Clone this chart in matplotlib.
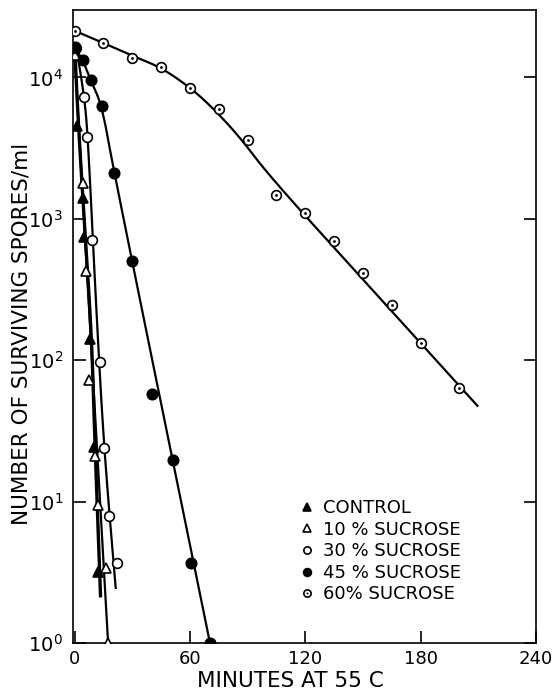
import numpy as np
import matplotlib
matplotlib.use("Agg")
import matplotlib.pyplot as plt
from matplotlib.legend_handler import HandlerTuple
from matplotlib.ticker import FixedLocator, FuncFormatter

plt.rcParams["font.family"] = ["DejaVu Sans"]

# Surviving spores/ml against minutes of heating at 55 C
control_t = [0, 1.0, 4.1, 5.0, 8.2, 10.1, 12.2]
control_n = [15000, 4530, 1400, 750, 142, 24.3, 3.2]

sucrose10_t = [0, 4.4, 6.1, 7.5, 10.5, 12.1, 16.1, 17.4]
sucrose10_n = [14400, 1780, 430, 72, 21, 9.5, 3.4, 1.0]

sucrose30_t = [0.6, 5.1, 6.5, 8.8, 13.1, 15.3, 17.9, 21.8]
sucrose30_n = [16200, 7300, 3810, 708, 97, 24, 7.9, 3.7]

sucrose45_t = [0, 4.2, 8.3, 14.3, 20.5, 30, 40.3, 51.2, 60.3, 70.3]
sucrose45_n = [16400, 13300, 9600, 6280, 2110, 503, 58, 19.7, 3.7, 1.0]

sucrose60_t = [0, 15, 30, 45, 60, 75, 90, 105, 120, 135, 150, 165, 180, 200]
sucrose60_n = [21400, 17600, 13800, 11800, 8460, 5980, 3610, 1470, 1100,
               697, 412, 246, 132, 64]

# Hand-fitted survivor curves (knots, smoothed in log space)
control_fit_t = [0, 1.8, 5.3, 8.8, 10.5, 13.5]
control_fit_n = [16900, 5000, 834, 151, 27, 2.1]

sucrose10_fit_t = [0, 17.4]
sucrose10_fit_n = [14400, 1.0]

sucrose30_fit_t = [0.9, 5.0, 6.9, 11.0, 15.2, 21.4]
sucrose30_fit_n = [16100, 7380, 3780, 267, 24.3, 2.41]

sucrose45_fit_t = [0, 4.2, 8.3, 14.3, 20.5, 70.4]
sucrose45_fit_n = [16400, 13300, 9600, 6280, 2110, 1.0]

sucrose60_fit_t = [0, 14.3, 29.1, 44.8, 60.3, 71.9, 85.9, 101.5, 150, 209.9]
sucrose60_fit_n = [21400, 17700, 14400, 11800, 8450, 6080, 3790, 1990, 372, 47]

legend_labels = ["CONTROL", "10 % SUCROSE", "30 % SUCROSE",
                 "45 % SUCROSE", "60% SUCROSE"]
x_ticks = [0, 60, 120, 180, 240]
y_decades = [1, 10, 100, 1000, 10000]


def smooth_curve(t, n, iters=4):
    """Chaikin corner cutting on (minutes, log10 count) knots."""
    p = np.column_stack([np.asarray(t, float), np.log10(n)])
    for _ in range(iters):
        if len(p) < 3:
            break
        q = 0.75 * p[:-1] + 0.25 * p[1:]
        r = 0.25 * p[:-1] + 0.75 * p[1:]
        mid = np.empty((2 * len(q), 2))
        mid[0::2] = q
        mid[1::2] = r
        p = np.vstack([p[:1], mid[1:-1], p[-1:]])
    return p[:, 0], 10 ** p[:, 1]


fig = plt.figure(figsize=(5.53, 6.90), dpi=100)
ax = fig.add_axes([0.1315, 0.0681, 0.8378, 0.9174])
ax.set_yscale("log")
ax.set_xlim(-1.0, 240)
ax.set_ylim(1, 30000)

lw = 1.6
ms = 7
ew = 1.2

for ft, fn, w in [(sucrose60_fit_t, sucrose60_fit_n, lw),
                  (sucrose45_fit_t, sucrose45_fit_n, lw),
                  (sucrose30_fit_t, sucrose30_fit_n, lw),
                  (sucrose10_fit_t, sucrose10_fit_n, lw),
                  (control_fit_t, control_fit_n, 2.4)]:
    cx, cy = smooth_curve(ft, fn)
    ax.plot(cx, cy, color="black", lw=w, zorder=2, solid_capstyle="butt")

h_ctrl, = ax.plot(control_t, control_n, ls="none", marker="^", ms=ms,
                  mfc="black", mec="black", mew=ew, zorder=4)
h_10, = ax.plot(sucrose10_t, sucrose10_n, ls="none", marker="^", ms=ms,
                mfc="white", mec="black", mew=ew, zorder=4)
h_30, = ax.plot(sucrose30_t, sucrose30_n, ls="none", marker="o", ms=ms,
                mfc="white", mec="black", mew=ew, zorder=4)
h_45, = ax.plot(sucrose45_t, sucrose45_n, ls="none", marker="o", ms=ms + 0.5,
                mfc="black", mec="black", mew=ew, zorder=4)
h_60a, = ax.plot(sucrose60_t, sucrose60_n, ls="none", marker="o", ms=ms,
                 mfc="white", mec="black", mew=ew, zorder=4)
h_60b, = ax.plot(sucrose60_t, sucrose60_n, ls="none", marker="o", ms=2,
                 mfc="black", mec="black", mew=0, zorder=5)

for side in ["left", "right", "top", "bottom"]:
    ax.spines[side].set_linewidth(1.2)

ax.xaxis.set_major_locator(FixedLocator(x_ticks))
ax.xaxis.set_minor_locator(FixedLocator([]))
ax.set_xticklabels([str(v) for v in x_ticks])
ax.yaxis.set_major_locator(FixedLocator(y_decades))
ax.yaxis.set_minor_locator(FixedLocator([]))
ax.yaxis.set_major_formatter(FuncFormatter(
    lambda v, pos: r"$\mathregular{10^{%d}}$" % round(np.log10(v))))

ax.tick_params(axis="x", direction="in", length=9, width=1.2,
               labelsize=13, pad=5, top=False)
ax.tick_params(axis="y", direction="in", length=9, width=1.2,
               labelsize=14, pad=7, right=True)

ax.set_xlabel("MINUTES AT 55 C", fontsize=15.5)
ax.xaxis.set_label_coords(0.469, -0.044)
ax.set_ylabel("NUMBER OF SURVIVING SPORES/ml", fontsize=15.5)
ax.yaxis.set_label_coords(-0.09, 0.488)

ax.legend([h_ctrl, h_10, h_30, h_45, (h_60a, h_60b)], legend_labels,
          handler_map={tuple: HandlerTuple(ndivide=1, pad=0)},
          loc="upper left", bbox_to_anchor=(0.49, 0.2275),
          frameon=False, fontsize=13, markerscale=0.75,
          handlelength=0.8, handletextpad=0.5, labelspacing=0.2,
          borderpad=0, borderaxespad=0)

fig.savefig("out.png", dpi=100)
